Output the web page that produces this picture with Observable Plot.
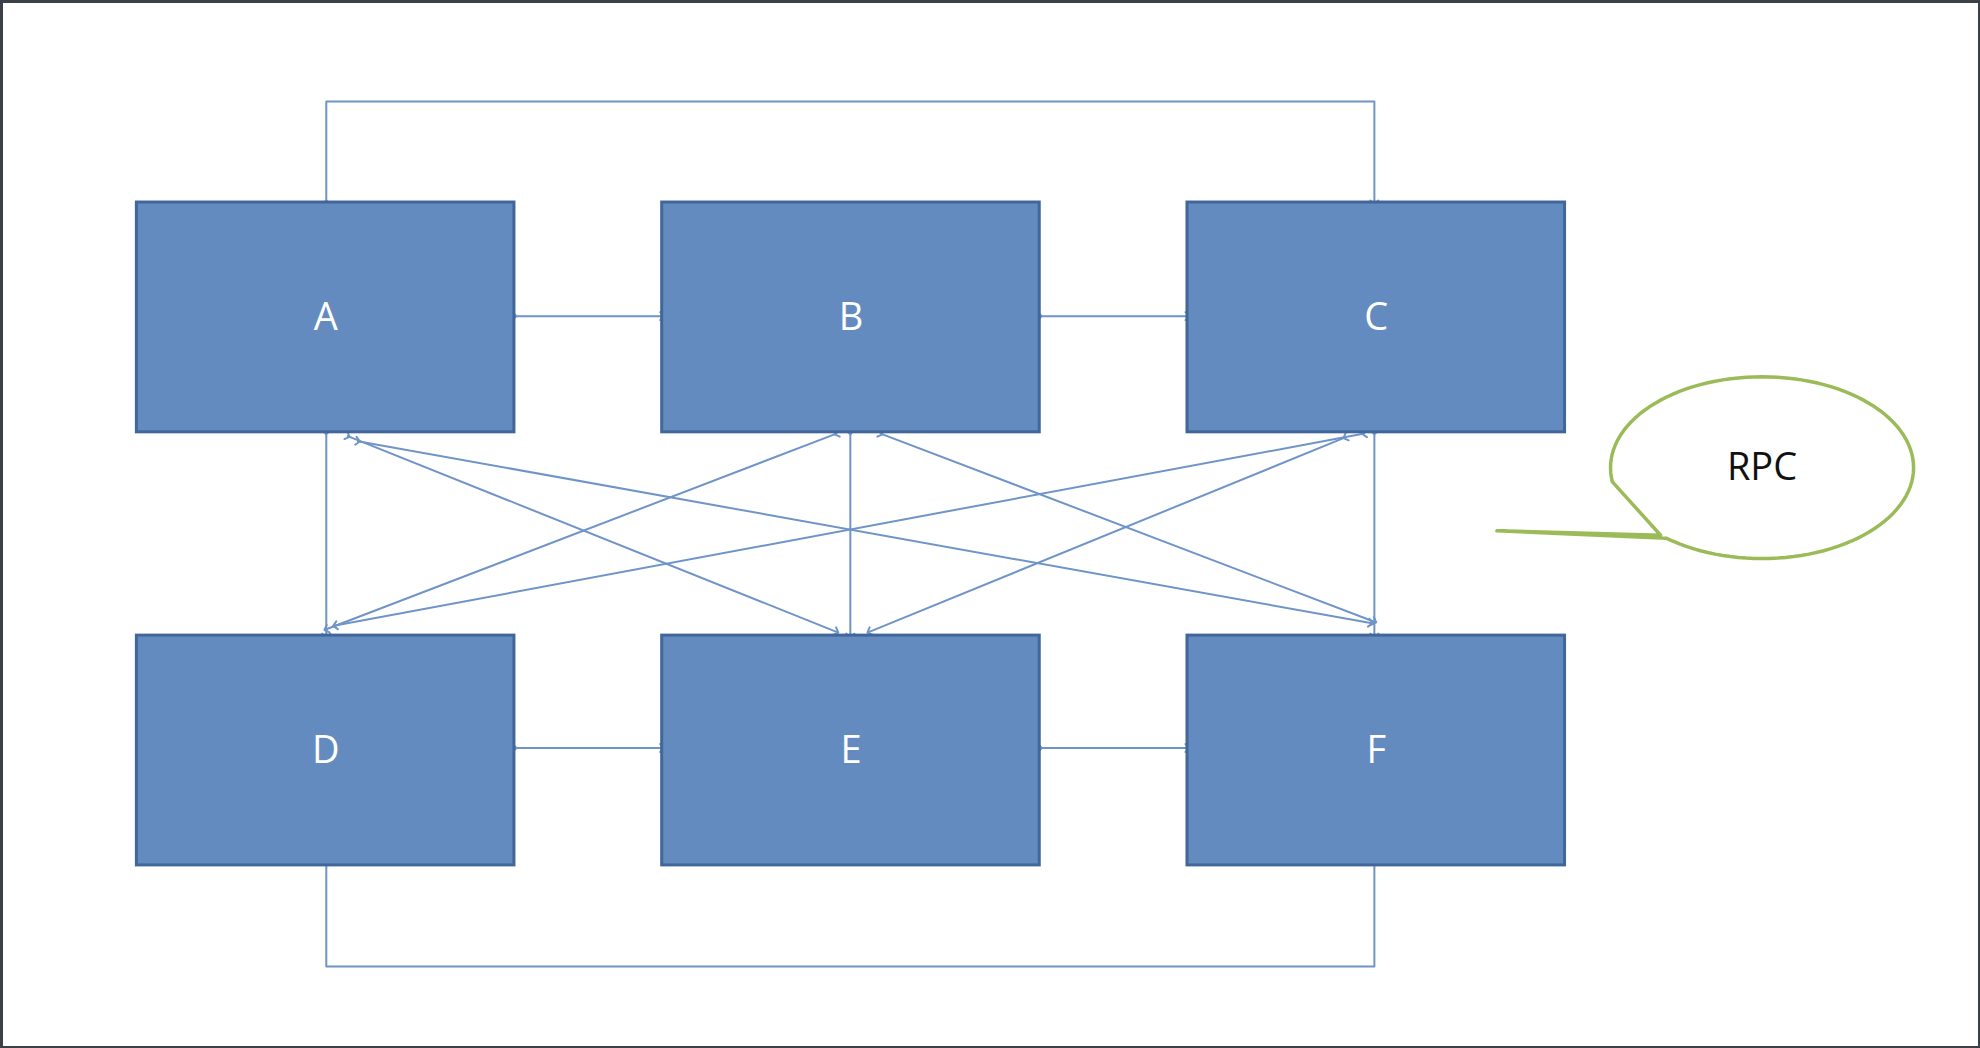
<!DOCTYPE html>
<html>
<head>
<meta charset="UTF-8">
<script src="https://cdn.jsdelivr.net/npm/d3@7"></script>
<script src="https://cdn.jsdelivr.net/npm/@observablehq/plot@0.6/dist/plot.umd.min.js"></script>
<style>
  body { margin: 0; background: #fff; }
</style>
</head>
<body>
<div id="chart"></div>
<script>
// diagram units: 1568 x 830 grid
const names = ["A", "B", "C", "D", "E", "F"];
const colLeft = [108, 524, 940, 108, 524, 940];
const rowTop = [160, 160, 160, 503, 503, 503];
const boxW = 299, boxH = 182;

const boxes = names.map((n, i) => ({
  name: n, x1: colLeft[i], x2: colLeft[i] + boxW, y1: rowTop[i], y2: rowTop[i] + boxH
}));

// double-headed links: polylines [x, y] lists
const links = [
  [[258, 160], [258, 80], [1088, 80], [1088, 160]],
  [[258, 683], [258, 765], [1088, 765], [1088, 683]],
  [[407, 250], [524, 250]],
  [[823, 250], [940, 250]],
  [[407, 592], [524, 592]],
  [[823, 592], [940, 592]],
  [[258, 342], [258, 503]],
  [[673, 342], [673, 503]],
  [[1088, 342], [1088, 503]],
  [[275, 345], [662, 500]],
  [[283, 349], [1085, 493]],
  [[662, 343], [258, 498]],
  [[697, 343], [1088, 492]],
  [[1080, 343], [265, 495]],
  [[1065, 346], [688, 500]]
];
const linkRows = links.flatMap((pts, k) => pts.map(([x, y]) => ({k, x, y})));

// callout bubble
const bubble = {cx: 1395, cy: 370, rx: 120, ry: 72, tipX: 1185, tipY: 420, label: "RPC"};
const bubblePts = [];
for (let a = 0; a <= 360; a += 3) {
  const t = a * Math.PI / 180;
  if (a > 150 && a < 230) {
    if (a === 153) bubblePts.push({x: bubble.tipX, y: bubble.tipY});
    continue;
  }
  bubblePts.push({x: bubble.cx + bubble.rx * Math.cos(t + Math.PI), y: bubble.cy - bubble.ry * Math.sin(t + Math.PI)});
}
// reorder so the tail sits between the lower-left arc points
const pathPts = [];
for (let a = 0; a <= 360; a += 3) {
  const t = a * Math.PI / 180;
  const x = bubble.cx + bubble.rx * Math.cos(t), y = bubble.cy + bubble.ry * Math.sin(t);
  if (a === 132) pathPts.push({x: bubble.tipX, y: bubble.tipY});
  if (a > 132 && a < 170) continue;
  pathPts.push({x, y});
}

const plot = Plot.plot({
  width: 1980, height: 1048,
  margin: 0,
  x: {domain: [0, 1568], axis: null},
  y: {domain: [0, 830], reverse: true, axis: null},
  marks: [
    Plot.frame({stroke: "#3c4147", strokeWidth: 5}),
    Plot.line(linkRows, {x: "x", y: "y", z: "k", stroke: "#6f94c8", strokeWidth: 2,
      markerStart: "arrow", markerEnd: "arrow"}),
    Plot.rect(boxes, {x1: "x1", x2: "x2", y1: "y1", y2: "y2", fill: "#648bbf", stroke: "#41679a", strokeWidth: 3}),
    Plot.text(boxes, {x: d => (d.x1 + d.x2) / 2, y: d => (d.y1 + d.y2) / 2, text: "name",
      fill: "white", fontSize: 38, fontFamily: "Open Sans, sans-serif"}),
    Plot.line(pathPts, {x: "x", y: "y", stroke: "#9bbb59", strokeWidth: 3.5, fill: "white"}),
    Plot.text([bubble], {x: "cx", y: "cy", text: "label", fontSize: 38, fill: "#111",
      fontFamily: "Open Sans, sans-serif"})
  ]
});
document.getElementById("chart").append(plot);
</script>
</body>
</html>
